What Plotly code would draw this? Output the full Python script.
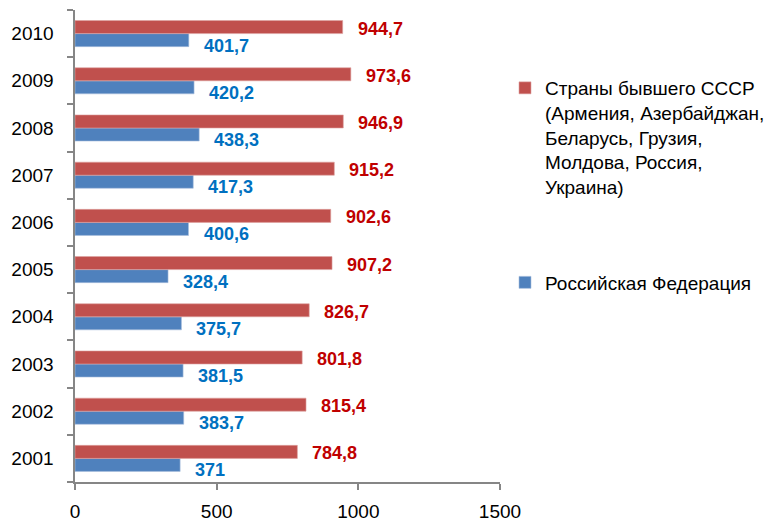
import plotly.graph_objects as go

years = ["2001", "2002", "2003", "2004", "2005", "2006", "2007", "2008", "2009", "2010"]
ussr = [784.8, 815.4, 801.8, 826.7, 907.2, 902.6, 915.2, 946.9, 973.6, 944.7]
russia = [371, 383.7, 381.5, 375.7, 328.4, 400.6, 417.3, 438.3, 420.2, 401.7]
ussr_name = "Страны бывшего СССР<br>(Армения, Азербайджан,<br>Беларусь, Грузия,<br>Молдова, Россия,<br>Украина)"
russia_name = "Российская Федерация"
x_ticks = [0, 500, 1000, 1500]

def fmt(v):
    s = ("%.1f" % v).rstrip("0").rstrip(".")
    return s.replace(".", ",")

FONT = "Liberation Sans, Arial, sans-serif"
fig = go.Figure()
fig.add_trace(go.Bar(y=years, x=russia, orientation="h", name=russia_name,
                     marker=dict(color="#4F81BD", line=dict(color="#A9C0DE", width=0.6)),
                     legendrank=2, legendgroup="b"))
fig.add_trace(go.Bar(y=years, x=ussr, orientation="h", name=ussr_name,
                     marker=dict(color="#C0504D", line=dict(color="#DDA3A1", width=0.6)),
                     legendrank=1, legendgroup="a"))

anns = []
for i, v in enumerate(ussr):
    anns.append(dict(x=v, y=i, text=fmt(v), showarrow=False, xanchor="left", yanchor="middle",
                     xshift=13, yshift=5, font=dict(family=FONT, size=18, color="#C00000", weight="bold")))
for i, v in enumerate(russia):
    anns.append(dict(x=v, y=i, text=fmt(v), showarrow=False, xanchor="left", yanchor="middle",
                     xshift=13, yshift=-12, font=dict(family=FONT, size=18, color="#0070C0", weight="bold")))

L, T, B = 67, 2, 47
PW = 775 - L
PH = 521 - T - B
fig.update_layout(
    width=775, height=521,
    margin=dict(l=L, r=0, t=T, b=B, autoexpand=False),
    plot_bgcolor="white", paper_bgcolor="white",
    barmode="group", bargap=0.447, bargroupgap=0,
    font=dict(family=FONT, size=19, color="#000000"),
    annotations=anns,
    showlegend=True,
    legend=dict(x=(497 - L) / PW, y=1 - (61 - T) / PH, xref="paper", yref="paper",
                xanchor="left", yanchor="top", valign="top",
                traceorder="grouped", tracegroupgap=68,
                font=dict(family=FONT, size=19, color="#000000"),
                bgcolor="rgba(0,0,0,0)"),
    xaxis=dict(domain=[0, 425 / PW], range=[0, 1500], tickvals=x_ticks, ticktext=[str(t) for t in x_ticks],
               showgrid=False, zeroline=False, showline=True, linecolor="#868686", linewidth=1.5,
               ticks="outside", ticklen=6, tickcolor="#868686", tickwidth=1.5, automargin=False,
               ticklabelstandoff=5,
               tickfont=dict(family=FONT, size=19, color="#000000")),
    yaxis=dict(type="category", categoryorder="array", categoryarray=years, range=[-0.5, len(years) - 0.5],
               showgrid=False, zeroline=False, showline=True, linecolor="#868686", linewidth=1.5,
               ticks="outside", ticklen=6, tickcolor="#868686", tickwidth=1.5, tickson="boundaries",
               automargin=False, ticksuffix="   ",
               tickfont=dict(family=FONT, size=19, color="#000000")),
)
fig.write_html("out.html")
